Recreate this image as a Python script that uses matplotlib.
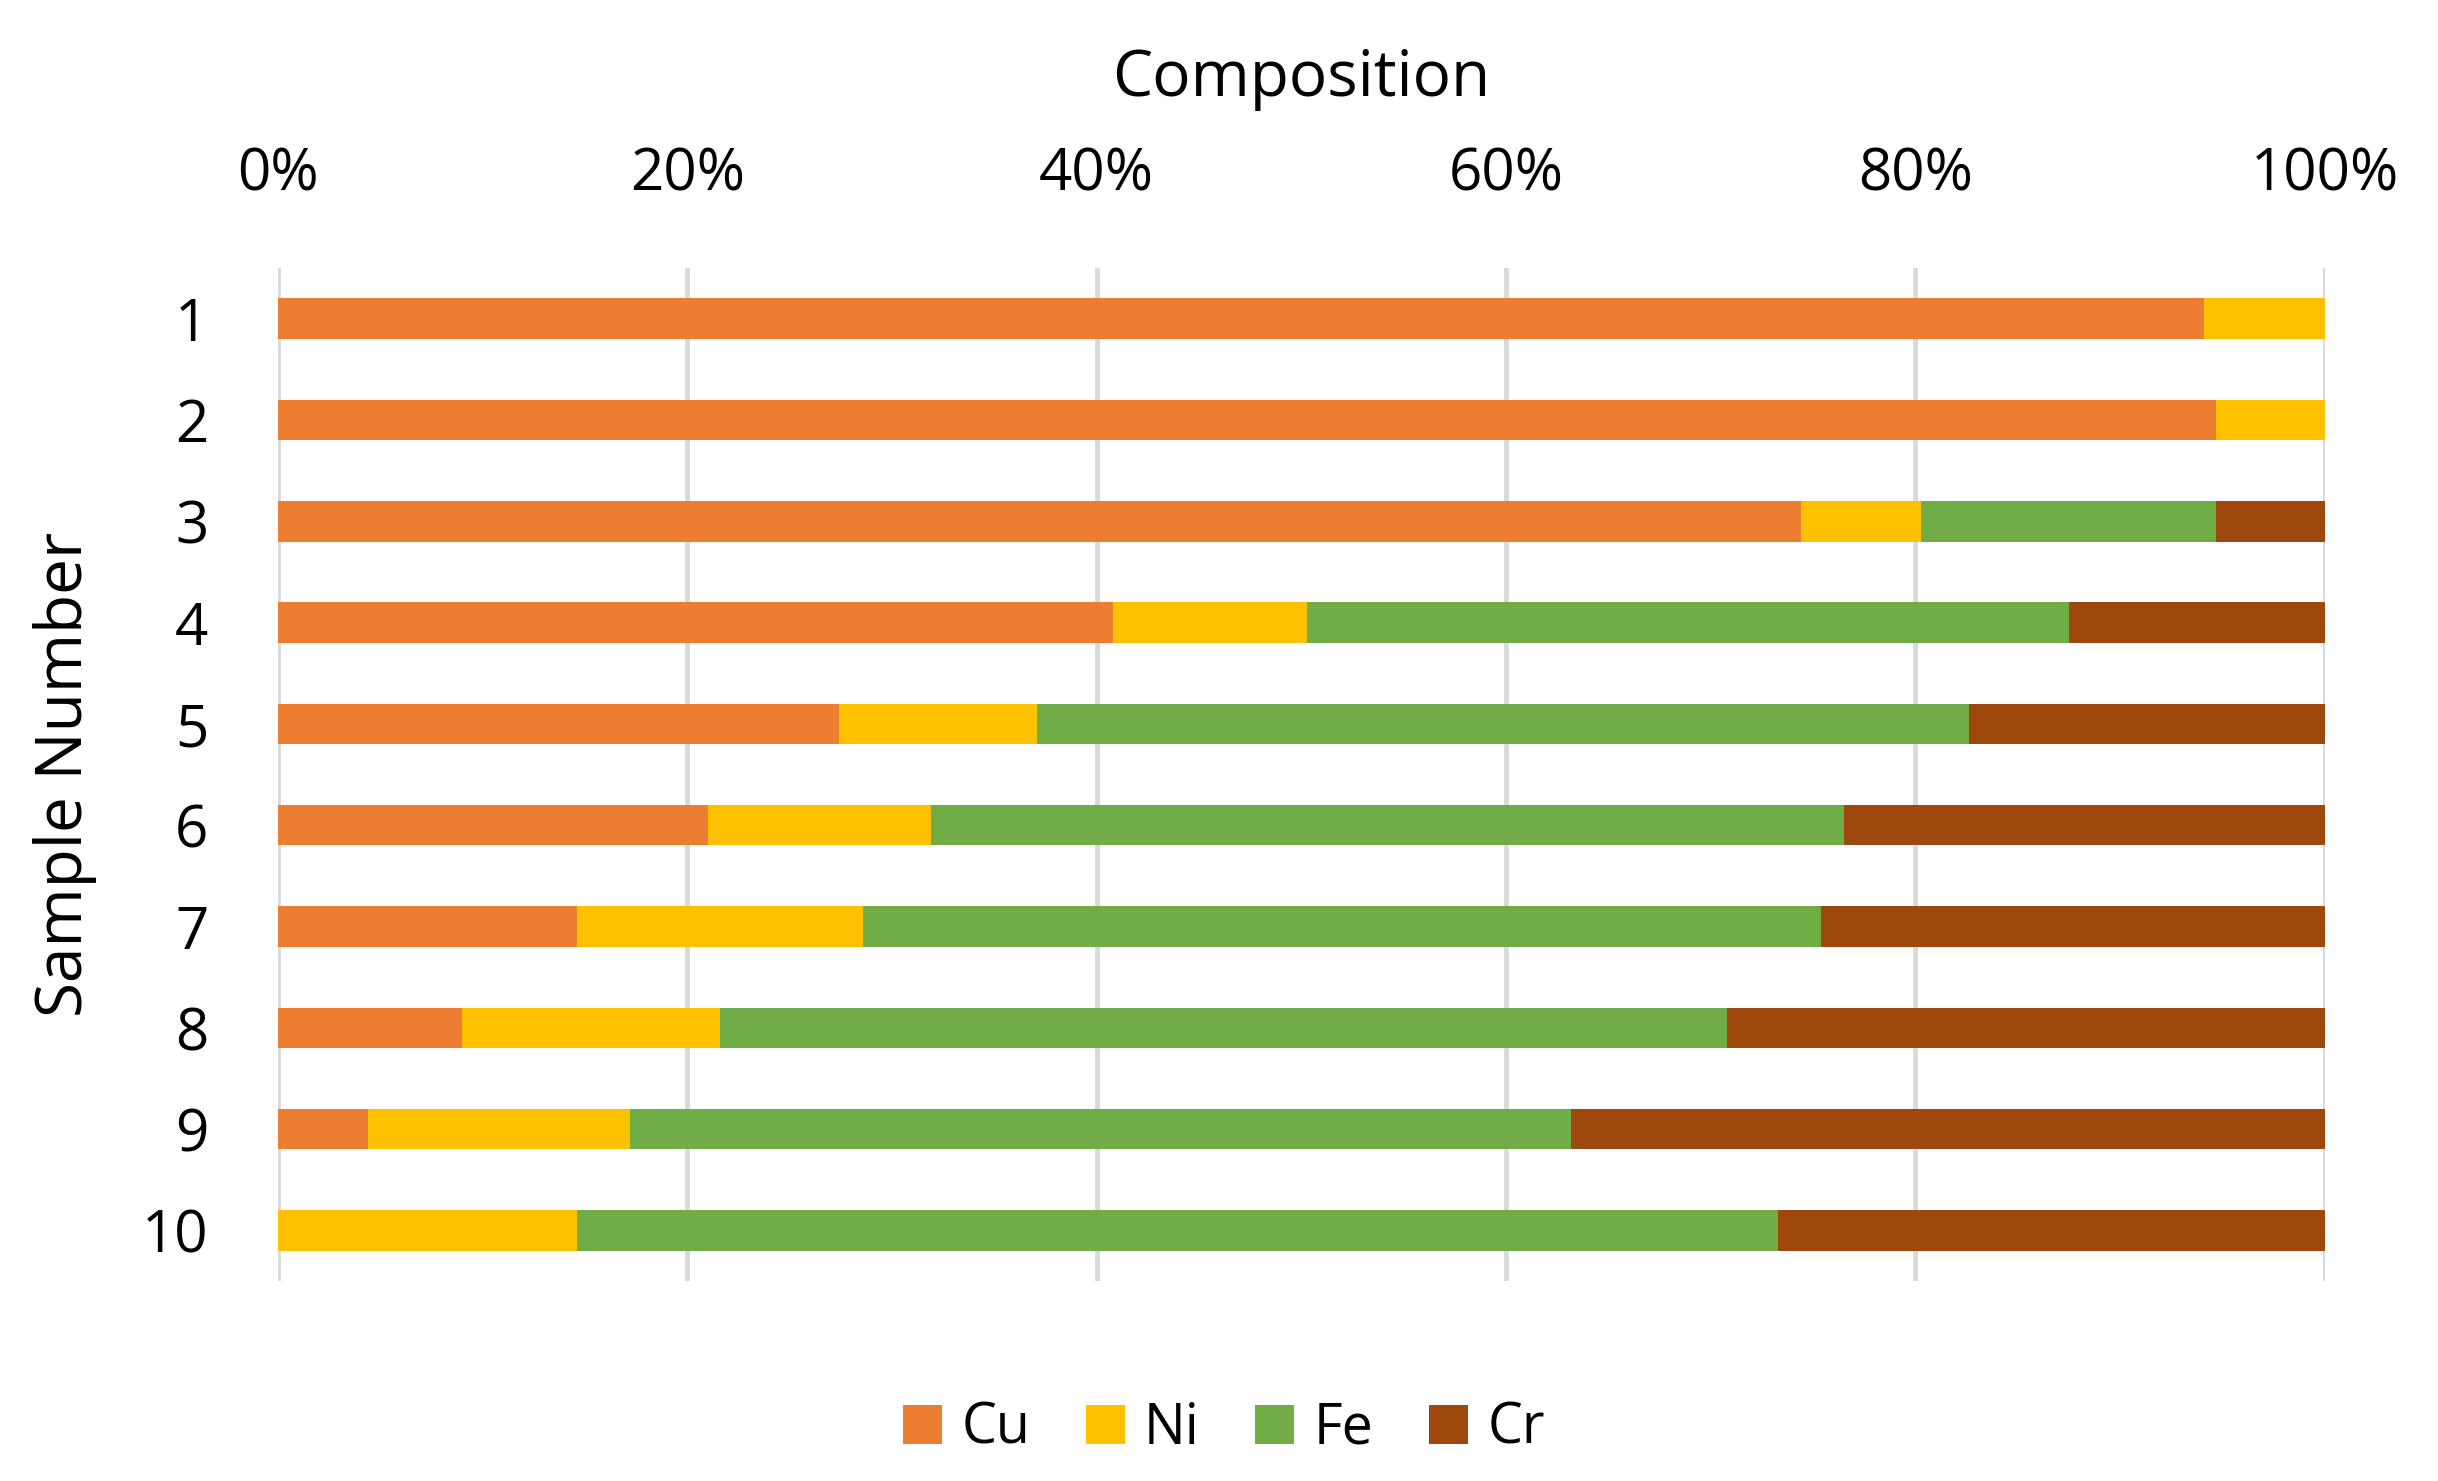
import numpy as np
import matplotlib.pyplot as plt
from matplotlib.ticker import PercentFormatter

# =====================
# Data (percent of composition)
# =====================

samples = ["1", "2", "3", "4", "5", "6", "7", "8", "9", "10"]

cu = [94.1, 94.7, 74.4, 40.8, 27.4, 21.0, 14.6, 9.0, 4.4, 0.0]
ni = [5.9, 5.3, 5.9, 9.5, 9.7, 10.9, 14.0, 12.6, 12.8, 14.6]
fe = [0.0, 0.0, 14.4, 37.2, 45.5, 44.6, 46.8, 49.2, 46.0, 58.7]
cr = [0.0, 0.0, 5.3, 12.5, 17.4, 23.5, 24.6, 29.2, 36.8, 26.7]

elements = ["Cu", "Ni", "Fe", "Cr"]
colors = ["#ED7D31", "#FFC000", "#70AD47", "#9E480E"]

plt.rcParams["font.family"] = ["Open Sans", "DejaVu Sans"]

# =====================
# Plot
# =====================

fig = plt.figure(figsize=(24.38, 14.81), dpi=100)
ax = fig.add_axes([0.114, 0.135, 0.8395, 0.684])

y = np.arange(1, len(samples) + 1)
left = np.zeros(len(samples))

for name, vals, col in zip(elements, [cu, ni, fe, cr], colors):
    vals = np.array(vals)
    ax.barh(y, vals, left=left, height=0.4, color=col, label=name, zorder=3)
    left = left + vals

ax.set_xlim(0, 100)
ax.set_ylim(10.5, 0.5)

ax.set_xticks([0, 20, 40, 60, 80, 100])
ax.xaxis.set_major_formatter(PercentFormatter(decimals=0))
ax.set_yticks(y)
ax.set_yticklabels(samples)

ax.xaxis.tick_top()
ax.xaxis.set_label_position("top")
ax.tick_params(axis="x", length=0, pad=46, labelsize=42)
ax.tick_params(axis="y", length=0, pad=50, labelsize=42)

ax.grid(axis="x", color="#D9D9D9", linewidth=3.5, zorder=0)
ax.grid(axis="y", visible=False)
for s in ax.spines.values():
    s.set_visible(False)

ax.set_xlabel("Composition", fontsize=46, labelpad=36)
ax.set_ylabel("Sample Number", fontsize=46, labelpad=32)

fig.legend(
    loc="center",
    bbox_to_anchor=(0.502, 0.035),
    ncol=4,
    frameon=False,
    fontsize=40,
    handlelength=0.7,
    handleheight=0.7,
    handletextpad=0.35,
    columnspacing=1.0
)

plt.savefig("out.png", dpi=100)
